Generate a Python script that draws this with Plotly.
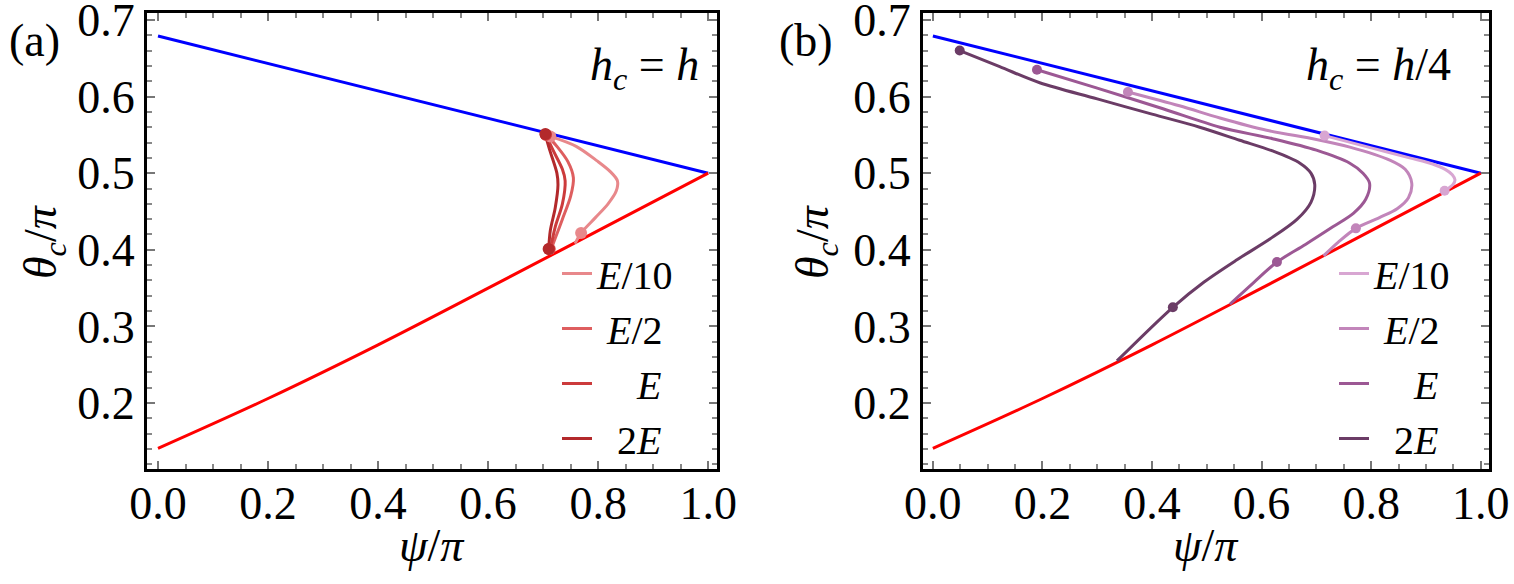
import plotly.graph_objects as go

# ---------------- data ----------------
labels = ["<i>E</i>/10", "\u00a0<i>E</i>/2", "\u00a0\u00a0\u00a0\u00a0<i>E</i>", "\u00a0\u00a02<i>E</i>"]
colors_a = ["#E8888B", "#DE5E5F", "#CC3B3C", "#B3292B"]
colors_b = ["#D8A6D2", "#C285BA", "#9C5894", "#6B3C66"]

blue_psi = [0.0, 1.0]
blue_theta = [0.679, 0.5]
red_psi = [0.0, 0.2, 0.4, 0.6, 0.8, 1.0]
red_theta = [0.141, 0.206, 0.276, 0.350, 0.425, 0.5]

# panel (a): h_c = h
a_psi = [
    [0.713, 0.760, 0.798, 0.822, 0.835, 0.833, 0.818, 0.795, 0.769, 0.758],
    [0.706, 0.725, 0.745, 0.755, 0.750, 0.735, 0.722, 0.714],
    [0.705, 0.718, 0.735, 0.740, 0.735, 0.722, 0.713],
    [0.704, 0.712, 0.725, 0.727, 0.722, 0.713, 0.710],
]
a_theta = [
    [0.548, 0.535, 0.516, 0.502, 0.490, 0.477, 0.460, 0.442, 0.422, 0.408],
    [0.550, 0.535, 0.515, 0.494, 0.470, 0.440, 0.415, 0.400],
    [0.550, 0.530, 0.505, 0.490, 0.460, 0.430, 0.400],
    [0.550, 0.530, 0.500, 0.485, 0.455, 0.425, 0.400],
]
a_dot_psi = [[0.713, 0.769], [0.705, 0.712], [0.705, 0.711], [0.704, 0.710]]
a_dot_theta = [[0.548, 0.422], [0.550, 0.401], [0.550, 0.401], [0.551, 0.401]]

# panel (b): h_c = h/4
b_psi = [
    [0.715, 0.800, 0.870, 0.912, 0.935, 0.948, 0.953, 0.949, 0.934],
    [0.356, 0.450, 0.524, 0.609, 0.700, 0.761, 0.834, 0.862, 0.874, 0.868, 0.848, 0.815, 0.772, 0.740, 0.713],
    [0.190, 0.300, 0.420, 0.524, 0.620, 0.700, 0.761, 0.785, 0.797, 0.790, 0.768, 0.730, 0.680, 0.628, 0.585, 0.542],
    [0.049, 0.122, 0.195, 0.300, 0.400, 0.487, 0.560, 0.620, 0.670, 0.690, 0.697, 0.690, 0.665, 0.615, 0.555, 0.495, 0.438, 0.336],
]
b_theta = [
    [0.549, 0.533, 0.520, 0.512, 0.505, 0.498, 0.491, 0.485, 0.477],
    [0.606, 0.588, 0.572, 0.556, 0.544, 0.534, 0.517, 0.505, 0.487, 0.468, 0.454, 0.442, 0.428, 0.410, 0.392],
    [0.635, 0.611, 0.584, 0.560, 0.545, 0.530, 0.513, 0.500, 0.487, 0.466, 0.448, 0.430, 0.407, 0.384, 0.357, 0.329],
    [0.660, 0.639, 0.618, 0.597, 0.577, 0.560, 0.543, 0.529, 0.513, 0.500, 0.485, 0.462, 0.440, 0.414, 0.387, 0.358, 0.325, 0.255],
]
b_dot_psi = [[0.715, 0.934], [0.356, 0.772], [0.190, 0.628], [0.049, 0.438]]
b_dot_theta = [[0.549, 0.477], [0.606, 0.428], [0.635, 0.384], [0.660, 0.325]]

x_ticks = [0.0, 0.2, 0.4, 0.6, 0.8, 1.0]
x_ticktext = ["0.0", "0.2", "0.4", "0.6", "0.8", "1.0"]
y_ticks = [0.2, 0.3, 0.4, 0.5, 0.6, 0.7]
y_ticktext = ["0.2", "0.3", "0.4", "0.5", "0.6", "0.7"]

# ---------------- figure ----------------
W, H = 1514, 584
fig = go.Figure()
SERIF = "Liberation Serif"

panels = [
    ("x", "y", "legend", a_psi, a_theta, a_dot_psi, a_dot_theta, colors_a, 12),
    ("x2", "y2", "legend2", b_psi, b_theta, b_dot_psi, b_dot_theta, colors_b, 10),
]
for xa, ya, leg, P, T, DP, DT, cols, msize in panels:
    fig.add_trace(go.Scatter(x=blue_psi, y=blue_theta, mode="lines", line=dict(color="#0000FF", width=3),
                             xaxis=xa, yaxis=ya, showlegend=False, hoverinfo="skip"))
    fig.add_trace(go.Scatter(x=red_psi, y=red_theta, mode="lines",
                             line=dict(color="#FF0000", width=3, shape="spline", smoothing=1.0),
                             xaxis=xa, yaxis=ya, showlegend=False, hoverinfo="skip"))
    for i in range(4):
        fig.add_trace(go.Scatter(x=P[i], y=T[i], mode="lines",
                                 line=dict(color=cols[i], width=3, shape="spline", smoothing=0.9),
                                 xaxis=xa, yaxis=ya, name=labels[i], legend=leg, showlegend=True))
    for i in range(4):
        fig.add_trace(go.Scatter(x=DP[i], y=DT[i], mode="markers", marker=dict(color=cols[i], size=msize),
                                 xaxis=xa, yaxis=ya, showlegend=False))

axis_common = dict(
    showgrid=False, zeroline=False, showline=True, linecolor="black", linewidth=3,
    mirror="allticks", ticks="inside", ticklen=8, tickwidth=2, tickcolor="#777777",
    tickfont=dict(family=SERIF, size=46, color="black"), ticklabeloverflow="allow",
    automargin=False,
)
xcommon = dict(axis_common, tickvals=x_ticks, ticktext=x_ticktext, ticklabelstandoff=-8,
               minor=dict(dtick=0.05, ticks="inside", ticklen=5, tickwidth=2, tickcolor="#888888", showgrid=False))
ycommon = dict(axis_common, tickvals=y_ticks, ticktext=y_ticktext,
               minor=dict(dtick=0.02, tick0=0.0, ticks="inside", ticklen=5, tickwidth=2, tickcolor="#888888", showgrid=False))

ydom = [1 - 469 / H, 1 - 13 / H]
fig.update_layout(
    width=W, height=H, margin=dict(l=0, r=0, t=0, b=0, autoexpand=False),
    paper_bgcolor="white", plot_bgcolor="white",
    font=dict(family=SERIF),
    xaxis=dict(xcommon, domain=[147 / W, 717 / W], range=[-0.02, 1.016], anchor="y"),
    yaxis=dict(ycommon, domain=ydom, range=[0.114, 0.709], anchor="x"),
    xaxis2=dict(xcommon, domain=[923 / W, 1489 / W], range=[-0.018, 1.015], anchor="y2"),
    yaxis2=dict(ycommon, domain=ydom, range=[0.114, 0.709], anchor="x2"),
    legend=dict(x=557 / W, y=1 - 241 / H, xanchor="left", yanchor="top", bgcolor="rgba(0,0,0,0)",
                font=dict(family=SERIF, size=40, color="black"), tracegroupgap=0, itemwidth=30),
    legend2=dict(x=1334 / W, y=1 - 241 / H, xanchor="left", yanchor="top", bgcolor="rgba(0,0,0,0)",
                 font=dict(family=SERIF, size=40, color="black"), tracegroupgap=0, itemwidth=30),
    showlegend=True,
)

ann_font = dict(family=SERIF, size=46, color="black")
annotations = [
    dict(text="(a)", x=34 / W, y=1 - 40 / H),
    dict(text="(b)", x=806 / W, y=1 - 40 / H),
    dict(text="<i>h</i><sub><i>c</i></sub> = <i>h</i>", x=644 / W, y=1 - 68 / H),
    dict(text="<i>h</i><sub><i>c</i></sub> = <i>h</i>/4", x=1378 / W, y=1 - 68 / H),
    dict(text="<i>ψ</i>/<i>π</i>", x=432 / W, y=1 - 545 / H),
    dict(text="<i>ψ</i>/<i>π</i>", x=1206 / W, y=1 - 545 / H),
    dict(text="<i>θ</i><sub><i>c</i></sub>/<i>π</i>", x=44 / W, y=1 - 242 / H, textangle=-90),
    dict(text="<i>θ</i><sub><i>c</i></sub>/<i>π</i>", x=816 / W, y=1 - 242 / H, textangle=-90),
]
for a in annotations:
    fig.add_annotation(xref="paper", yref="paper", showarrow=False, xanchor="center", yanchor="middle",
                       font=ann_font, **a)

fig.write_html("out.html")
